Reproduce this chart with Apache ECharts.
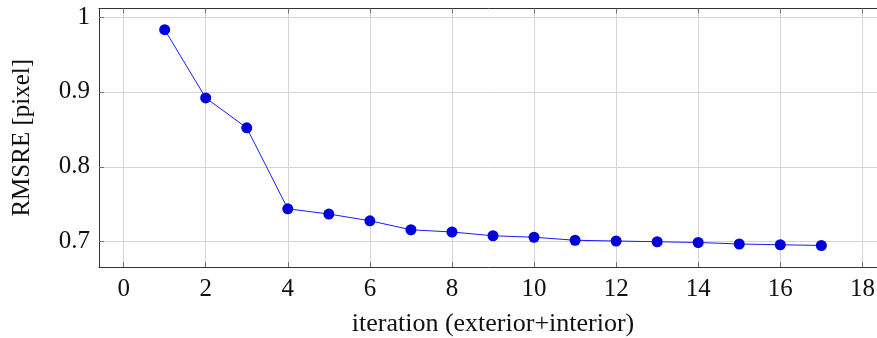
<!DOCTYPE html>
<html>
<head>
<meta charset="utf-8">
<script src="https://cdn.jsdelivr.net/npm/echarts@6/dist/echarts.min.js"></script>
<style>
html, body { margin: 0; padding: 0; background: #fff; }
#main { width: 877px; height: 338px; }
</style>
</head>
<body>
<div id="main"></div>
<script>
var iterations = [1, 2, 3, 4, 5, 6, 7, 8, 9, 10, 11, 12, 13, 14, 15, 16, 17];
var rmsre = [0.983, 0.892, 0.852, 0.744, 0.737, 0.728, 0.716, 0.713, 0.708, 0.706,
             0.702, 0.701, 0.700, 0.699, 0.697, 0.696, 0.695];
var xTicks = [0, 2, 4, 6, 8, 10, 12, 14, 16, 18];
var yTicks = [0.7, 0.8, 0.9, 1];

var chart = echarts.init(document.getElementById('main'));

var font = 'Liberation Serif';
var gridColor = '#d4d4d4';
var frameColor = '#333';
var tickColor = '#777';

var points = iterations.map(function (x, i) { return [x, rmsre[i]]; });

option = {
    animation: false,
    textStyle: { fontFamily: font },
    grid: {
        left: 99,
        top: 8.5,
        height: 258.5,
        width: 788,
        outerBoundsMode: 'none',
        containLabel: false,
        show: false
    },
    xAxis: [
        {
            type: 'value',
            min: -0.6,
            max: 18.6,
            name: 'iteration (exterior+interior)',
            nameLocation: 'middle',
            nameGap: 44,
            nameTextStyle: { color: '#111', fontSize: 26, fontFamily: font },
            axisLine: { show: true, onZero: false, lineStyle: { color: frameColor, width: 1 } },
            axisTick: {
                show: true, inside: true, length: 5, customValues: xTicks,
                lineStyle: { color: tickColor }
            },
            axisLabel: {
                customValues: xTicks, color: '#111', fontSize: 25, margin: 10,
                fontFamily: font
            },
            splitLine: {
                show: true, customValues: xTicks,
                lineStyle: { color: gridColor, width: 1 }
            }
        },
        {
            type: 'value',
            position: 'top',
            min: -0.6,
            max: 18.6,
            axisLine: { show: true, onZero: false, lineStyle: { color: frameColor, width: 1 } },
            axisTick: {
                show: true, inside: true, length: 5, customValues: xTicks,
                lineStyle: { color: tickColor }
            },
            axisLabel: { show: false },
            splitLine: { show: false }
        }
    ],
    yAxis: [
        {
            type: 'value',
            min: 0.6663,
            max: 1.0113,
            name: 'RMSRE [pixel]',
            nameLocation: 'middle',
            nameGap: 64,
            nameTextStyle: { color: '#111', fontSize: 25, fontFamily: font },
            axisLine: { show: true, onZero: false, lineStyle: { color: frameColor, width: 1 } },
            axisTick: {
                show: true, inside: true, length: 5, customValues: yTicks,
                lineStyle: { color: tickColor }
            },
            axisLabel: {
                customValues: yTicks, color: '#111', fontSize: 25, margin: 9,
                fontFamily: font,
                formatter: function (v) { return String(Math.round(v * 10) / 10); }
            },
            splitLine: {
                show: true, customValues: yTicks,
                lineStyle: { color: gridColor, width: 1 }
            }
        },
        {
            type: 'value',
            position: 'right',
            min: 0.6663,
            max: 1.0113,
            axisLine: { show: true, onZero: false, lineStyle: { color: frameColor, width: 1 } },
            axisTick: {
                show: true, inside: true, length: 5, customValues: yTicks,
                lineStyle: { color: tickColor }
            },
            axisLabel: { show: false },
            splitLine: { show: false }
        }
    ],
    series: [
        {
            type: 'line',
            xAxisIndex: 0,
            yAxisIndex: 0,
            data: points,
            symbol: 'circle',
            symbolSize: 11,
            lineStyle: { color: '#1a1aff', width: 1 },
            itemStyle: { color: '#0000d8', borderWidth: 0 }
        }
    ]
};

chart.setOption(option);
</script>
</body>
</html>
